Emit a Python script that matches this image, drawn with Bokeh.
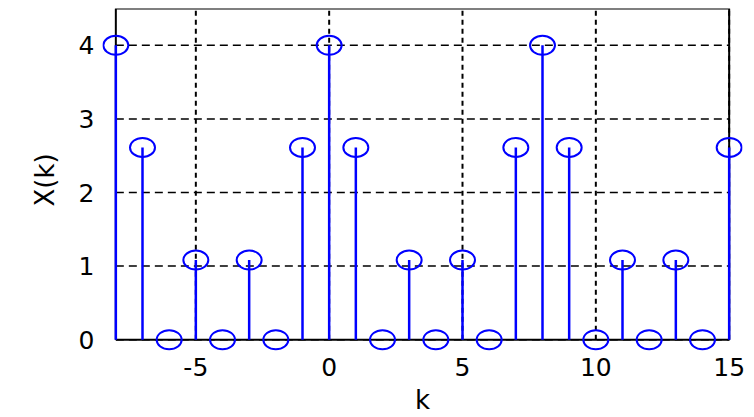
from bokeh.plotting import figure
from bokeh.models import Range1d, FixedTicker
from bokeh.embed import file_html
from bokeh.resources import INLINE

# DFT magnitude samples X(k), k = -8 .. 15 (period 8)
k_values = list(range(-8, 16))
period_mag = [4.0, 2.613, 0.0, 1.082, 0.0, 1.082, 0.0, 2.613]
x_mag = [period_mag[k % 8] for k in k_values]

x_ticks = [-5, 0, 5, 10, 15]
x_tick_labels = {-5: "-5", 0: "0", 5: "5", 10: "10", 15: "15"}
y_ticks = [0, 1, 2, 3, 4]

# axes box limits
X_MIN, X_MAX = -8, 15
Y_MIN, Y_MAX = 0, 4.5

FONT = "DejaVu Sans"

# the frame is a little wider than the box so edge markers are not cut off
p = figure(width=754, height=417, output_backend="svg", toolbar_location=None,
           x_range=Range1d(X_MIN - 0.5, X_MAX + 0.5),
           y_range=Range1d(Y_MIN - 0.16, Y_MAX),
           min_border_left=102, min_border_right=12, min_border_top=8,
           min_border_bottom=65)
p.background_fill_color = "white"
p.border_fill_color = "white"
p.outline_line_color = None
p.xgrid.visible = False
p.ygrid.visible = False

for ax in (p.xaxis[0], p.yaxis[0]):
    ax.axis_line_color = None
    ax.major_tick_line_color = None
    ax.minor_tick_line_color = None
    ax.major_label_text_font = FONT
    ax.major_label_text_font_size = "25px"
    ax.major_label_text_color = "black"
    ax.axis_label_text_font = FONT
    ax.axis_label_text_font_size = "26px"
    ax.axis_label_text_font_style = "normal"
    ax.axis_label_text_color = "black"

p.xaxis.ticker = FixedTicker(ticks=x_ticks)
p.xaxis.major_label_overrides = x_tick_labels
p.yaxis.ticker = FixedTicker(ticks=y_ticks)
p.xaxis.axis_label = "k"
p.yaxis.axis_label = "X(k)"
p.xaxis.major_label_standoff = 0
p.yaxis.major_label_standoff = 2
p.xaxis.axis_label_standoff = 6
p.yaxis.axis_label_standoff = 16

# dotted vertical grid and dashed horizontal grid inside the box
p.segment(x0=x_ticks, y0=[Y_MIN] * len(x_ticks), x1=x_ticks, y1=[Y_MAX] * len(x_ticks),
          line_color="black", line_dash="5 4", line_width=2)
p.segment(x0=[X_MIN] * len(y_ticks), y0=y_ticks, x1=[X_MAX] * len(y_ticks), y1=y_ticks,
          line_color="black", line_dash="8 5", line_width=1.5)

# axes box
p.line([X_MIN, X_MAX, X_MAX, X_MIN, X_MIN], [Y_MIN, Y_MIN, Y_MAX, Y_MAX, Y_MIN],
       line_color="black", line_width=2)

# stems and markers
p.segment(x0=k_values, y0=[0] * len(k_values), x1=k_values, y1=x_mag,
          line_color="#0000FF", line_width=2.5)
p.ellipse(x=k_values, y=x_mag, width=25, height=19,
          width_units="screen", height_units="screen",
          fill_color=None, line_color="#0000FF", line_width=2)

open("out.html", "w").write(file_html(p, INLINE))
